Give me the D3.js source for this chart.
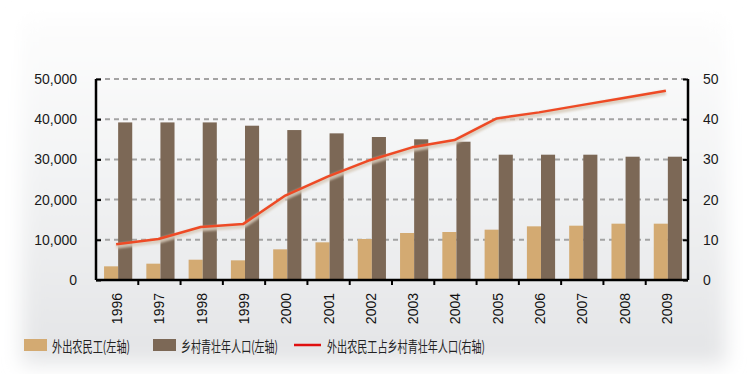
<!DOCTYPE html>
<html><head><meta charset="utf-8">
<script src="https://cdn.jsdelivr.net/npm/d3@7"></script>
<style>html,body{margin:0;padding:0;background:#fff;}svg{display:block;}</style>
</head><body>
<script>
const years = ["1996","1997","1998","1999","2000","2001","2002","2003","2004","2005","2006","2007","2008","2009"];
const migrantWorkers = [3400,4060,5050,4890,7630,9370,10200,11690,11940,12520,13350,13510,14010,14010];
const ruralYouth = [39200,39200,39200,38380,37300,36480,35570,35000,34400,31170,31170,31170,30670,30670];
const sharePct = [8.9,10.2,13.2,13.9,21.0,25.7,29.8,33.0,34.8,40.2,41.7,43.5,45.3,47.1];
const leftTicks = [0,10000,20000,30000,40000,50000];
const rightTicks = [0,10,20,30,40,50];
const legendLabels = ["外出农民工(左轴)","乡村青壮年人口(左轴)","外出农民工占乡村青壮年人口(右轴)"];

const W=748,H=374;
const svg=d3.select("body").append("svg").attr("width",W).attr("height",H);
const defs=svg.append("defs");
const g1=defs.append("linearGradient").attr("id","bg").attr("x1",0).attr("y1",0).attr("x2",0).attr("y2",1);
g1.append("stop").attr("offset","0%").attr("stop-color","#fdfdfd");
g1.append("stop").attr("offset","45%").attr("stop-color","#f2f3f4");
g1.append("stop").attr("offset","100%").attr("stop-color","#e3e4e6");
defs.append("filter").attr("id","blur").attr("x","-10%").attr("y","-10%").attr("width","120%").attr("height","120%")
  .append("feGaussianBlur").attr("stdDeviation",10);
defs.append("filter").attr("id","soft").append("feGaussianBlur").attr("stdDeviation",1.2);

svg.append("rect").attr("x",22).attr("y",18).attr("width",704).attr("height",346).attr("fill","url(#bg)").attr("filter","url(#blur)");

const x0=96,x1=688,yTop=79,yBot=280;
const x=d3.scaleBand().domain(years).range([x0,x1]).padding(0);
const xs=d3.scaleBand().domain(["a","b"]).range([0,x.bandwidth()]).paddingInner(0).paddingOuter(0.5);
const yL=d3.scaleLinear().domain([0,50000]).range([yBot,yTop]);
const yR=d3.scaleLinear().domain([0,50]).range([yBot,yTop]);

// grid
svg.append("g").selectAll("line").data(leftTicks.slice(1)).join("line")
  .attr("x1",x0).attr("x2",x1).attr("y1",d=>yL(d)).attr("y2",d=>yL(d))
  .attr("stroke","#a3a3a3").attr("stroke-width",2).attr("stroke-dasharray","5,4");

// bars
const bars=svg.append("g");
bars.selectAll("rect.a").data(years).join("rect").attr("class","a")
  .attr("x",(d)=>x(d)+xs("a")+1).attr("width",xs.bandwidth())
  .attr("y",(d,i)=>yL(migrantWorkers[i])).attr("height",(d,i)=>yBot-yL(migrantWorkers[i]))
  .attr("fill","#d3aa72");
bars.selectAll("rect.b").data(years).join("rect").attr("class","b")
  .attr("x",(d)=>x(d)+xs("b")+1).attr("width",xs.bandwidth())
  .attr("y",(d,i)=>yL(ruralYouth[i])).attr("height",(d,i)=>yBot-yL(ruralYouth[i]))
  .attr("fill","#7c6856");

// line
const line=d3.line().x((d,i)=>x(years[i])+x.bandwidth()/2-1).y(d=>yR(d));
svg.append("path").datum(sharePct).attr("d",line).attr("fill","none")
  .attr("stroke","#d8cbbb").attr("stroke-opacity",0.85).attr("stroke-width",5).attr("transform","translate(0,2)").attr("filter","url(#soft)");
svg.append("path").datum(sharePct).attr("d",line).attr("fill","none")
  .attr("stroke","#ee4a25").attr("stroke-width",2.5).attr("stroke-linejoin","round");

// axes
const fmt=d3.format(",");
const axL=d3.axisLeft(yL).tickValues(leftTicks).tickSize(-5).tickPadding(19).tickFormat(fmt);
const gL=svg.append("g").attr("transform",`translate(${x0},0)`).call(axL);
const axR=d3.axisRight(yR).tickValues(rightTicks).tickSize(-5).tickPadding(15);
const gR=svg.append("g").attr("transform",`translate(${x1},0)`).call(axR);
const axB=d3.axisBottom(x).tickValues([]).tickSizeOuter(0);
const gB=svg.append("g").attr("transform",`translate(0,${yBot})`).call(axB);
gB.selectAll("line.bt").data(years.slice(1)).join("line").attr("class","bt")
  .attr("x1",d=>x(d)).attr("x2",d=>x(d)).attr("y1",0).attr("y2",5).attr("stroke","#000").attr("stroke-width",2);
gB.selectAll("text.yr").data(years).join("text").attr("class","yr")
  .attr("transform",d=>`translate(${x(d)+x.bandwidth()/2+5},13) rotate(-90)`)
  .attr("text-anchor","end").attr("font-family","Liberation Sans, Arial, sans-serif").attr("font-size",14).attr("fill","#111")
  .text(d=>d);
[gL,gR,gB].forEach(g=>{
  g.select(".domain").attr("stroke","#000").attr("stroke-width",2.5);
  g.selectAll(".tick line").attr("stroke","#000").attr("stroke-width",2);
  g.selectAll(".tick text").attr("font-family","Liberation Sans, Arial, sans-serif").attr("font-size",14).attr("fill","#1a1a1a");
});
gL.select(".domain").attr("d",`M0,${yTop}V${yBot}`);
gR.select(".domain").attr("d",`M0,${yTop}V${yBot}`);
gB.select(".domain").attr("d",`M${x0},0H${x1}`);

// legend
const lg=svg.append("g").attr("font-family","'Noto Sans CJK SC', sans-serif").attr("font-size",15).attr("fill","#222");
lg.append("rect").attr("x",24).attr("y",339).attr("width",23).attr("height",12).attr("fill","#d3aa72");
lg.append("text").attr("x",52).attr("y",351.5).attr("textLength",78).attr("lengthAdjust","spacingAndGlyphs").text(legendLabels[0]);
lg.append("rect").attr("x",153).attr("y",339).attr("width",23).attr("height",12).attr("fill","#7c6856");
lg.append("text").attr("x",181).attr("y",351.5).attr("textLength",97).attr("lengthAdjust","spacingAndGlyphs").text(legendLabels[1]);
lg.append("line").attr("x1",294).attr("x2",321).attr("y1",345).attr("y2",345).attr("stroke","#e01010").attr("stroke-width",2.5);
lg.append("text").attr("x",327).attr("y",351.5).attr("textLength",158).attr("lengthAdjust","spacingAndGlyphs").text(legendLabels[2]);
</script>
</body></html>
